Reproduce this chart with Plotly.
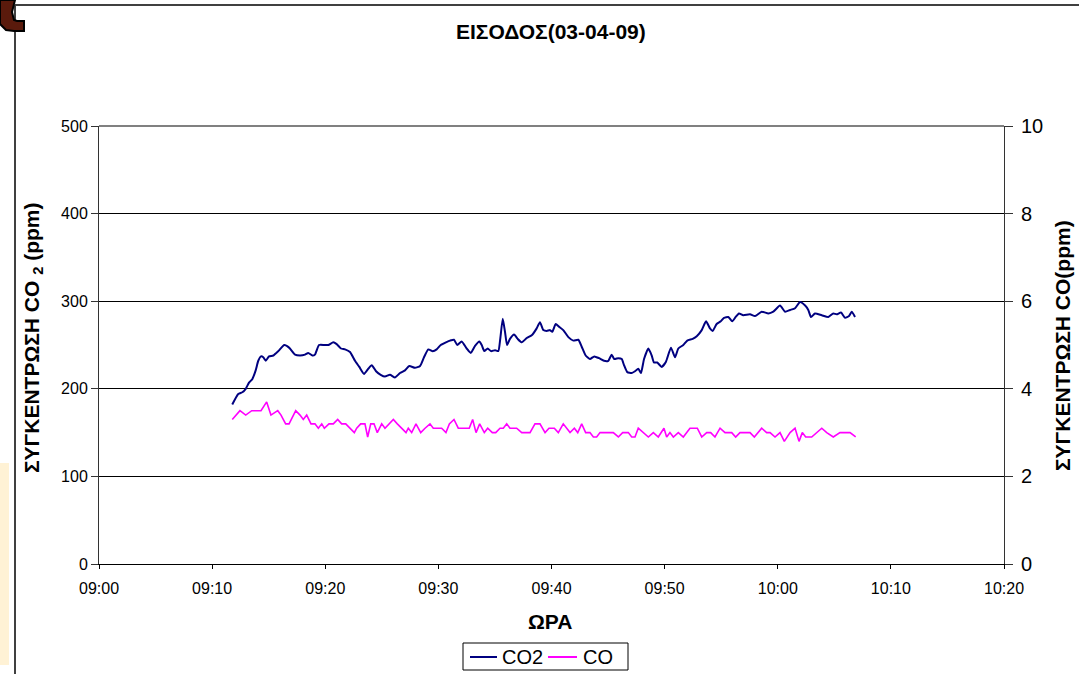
import pandas as pd
import plotly.graph_objects as go

# Sampling times (minutes after 09:00) and readings
co2_minutes = [11.78, 12.31, 12.67, 12.97, 13.26, 13.55, 13.85, 14.08, 14.32, 14.52, 14.74, 15.03,
               15.41, 15.85, 16.38, 16.80, 17.33, 17.77, 18.21, 18.50, 18.86, 19.09, 19.45, 19.92,
               20.27, 20.71, 21.01, 21.39, 21.75, 22.19, 22.63, 23.01, 23.43, 23.81, 24.11, 24.49,
               24.90, 25.28, 25.72, 26.17, 26.61, 27.05, 27.43, 27.93, 28.38, 28.73, 29.11, 29.50,
               29.85, 30.21, 30.67, 31.03, 31.38, 31.67, 32.06, 32.50, 32.86, 33.24, 33.62, 33.83,
               34.06, 34.36, 34.65, 35.01, 35.30, 35.47, 35.69, 35.89, 36.07, 36.33, 36.69, 37.01,
               37.37, 37.81, 38.25, 38.69, 38.98, 39.28, 39.58, 39.87, 40.07, 40.37, 40.66, 41.04,
               41.49, 41.93, 42.37, 42.67, 43.02, 43.40, 43.78, 44.20, 44.64, 45.02, 45.32, 45.55,
               45.91, 46.21, 46.41, 46.70, 47.09, 47.38, 47.67, 47.91, 48.18, 48.56, 48.86, 49.06,
               49.35, 49.74, 50.12, 50.56, 50.92, 51.21, 51.65, 52.00, 52.48, 52.84, 53.28, 53.66,
               54.01, 54.25, 54.60, 54.96, 55.25, 55.63, 55.98, 56.28, 56.57, 56.95, 57.55, 57.99,
               58.58, 59.17, 59.61, 60.20, 60.65, 61.09, 61.53, 61.97, 62.42, 62.70, 62.94, 63.29,
               63.89, 64.47, 64.91, 65.21, 65.59, 65.95, 66.30, 66.54, 66.83]
co2_ppm = [182, 194, 196, 200, 207, 211, 221, 232, 237, 236, 232, 237,
           238, 243, 250, 247, 239, 238, 239, 241, 238, 239, 250, 250,
           250, 253, 251, 246, 245, 242, 232, 225, 217, 223, 227, 220,
           216, 214, 216, 213, 218, 221, 226, 224, 226, 236, 245, 243,
           245, 250, 253, 255, 256, 250, 254, 246, 241, 249, 254, 250,
           243, 246, 243, 244, 243, 257, 280, 265, 250, 257, 262, 257,
           253, 258, 261, 269, 276, 267, 266, 267, 265, 274, 271, 267,
           259, 255, 256, 248, 238, 234, 237, 235, 232, 232, 239, 234,
           235, 234, 227, 219, 218, 220, 223, 218, 234, 246, 238, 230,
           230, 225, 231, 247, 236, 246, 250, 255, 257, 260, 267, 277,
           269, 266, 274, 277, 281, 282, 277, 282, 286, 284, 285, 283,
           288, 286, 288, 295, 288, 290, 292, 299, 295, 290, 282, 286,
           284, 282, 286, 285, 287, 281, 283, 288, 282]

co_minutes = [11.78, 12.46, 12.97, 13.50, 14.32, 14.82, 15.20, 15.80, 16.09, 16.50, 16.80, 17.39,
              17.77, 18.06, 18.36, 18.74, 19.09, 19.39, 19.69, 19.92, 20.33, 20.71, 21.10, 21.45,
              21.81, 22.19, 22.57, 22.78, 23.13, 23.51, 23.75, 24.02, 24.31, 24.60, 24.99, 25.28,
              25.66, 26.02, 26.37, 26.76, 27.14, 27.34, 27.64, 28.02, 28.44, 28.82, 29.26, 29.55,
              29.85, 30.29, 30.67, 30.97, 31.38, 31.76, 32.35, 32.73, 33.03, 33.33, 33.65, 34.06,
              34.36, 34.77, 35.07, 35.45, 35.74, 36.04, 36.33, 36.92, 37.37, 38.10, 38.54, 38.98,
              39.43, 39.78, 40.25, 40.60, 41.04, 41.34, 41.64, 42.02, 42.32, 42.67, 43.02, 43.40,
              43.70, 43.99, 44.29, 45.46, 45.91, 46.29, 46.79, 47.09, 47.38, 47.67, 48.12, 48.56,
              49.00, 49.44, 49.94, 50.18, 50.47, 50.77, 51.21, 51.65, 52.24, 52.89, 53.28, 53.72,
              54.07, 54.45, 54.90, 55.34, 55.93, 56.28, 56.66, 57.55, 57.93, 58.58, 59.02, 59.32,
              59.76, 60.20, 60.58, 61.09, 61.53, 61.88, 62.17, 62.47, 63.00, 63.44, 63.89, 64.33,
              64.91, 65.50, 66.39, 66.89]
co_ppm = [3.3, 3.5, 3.4, 3.5, 3.5, 3.7, 3.4, 3.5, 3.4, 3.2, 3.2, 3.5,
          3.4, 3.3, 3.4, 3.2, 3.2, 3.1, 3.2, 3.1, 3.2, 3.2, 3.3, 3.2,
          3.2, 3.1, 3.0, 3.1, 3.2, 3.2, 2.9, 3.2, 3.2, 3.0, 3.2, 3.1,
          3.2, 3.3, 3.2, 3.1, 3.0, 3.1, 3.0, 3.2, 3.0, 3.1, 3.2, 3.1,
          3.1, 3.1, 3.0, 3.2, 3.3, 3.1, 3.1, 3.1, 3.3, 3.0, 3.2, 3.0,
          3.1, 3.0, 3.0, 3.1, 3.1, 3.2, 3.1, 3.1, 3.0, 3.0, 3.2, 3.2,
          3.0, 3.1, 3.1, 3.0, 3.2, 3.1, 3.0, 3.1, 3.0, 3.2, 3.0, 3.0,
          2.9, 2.9, 3.0, 3.0, 2.9, 3.0, 3.0, 2.9, 2.9, 3.1, 3.0, 2.9,
          3.0, 2.9, 3.1, 2.9, 3.0, 2.9, 3.0, 2.9, 3.1, 3.1, 2.9, 3.0,
          3.0, 2.9, 3.1, 3.0, 3.0, 2.9, 3.0, 3.0, 2.9, 3.1, 3.0, 3.0,
          2.9, 3.0, 2.8, 3.0, 3.1, 2.8, 3.0, 2.9, 2.9, 3.0, 3.1, 3.0,
          2.9, 3.0, 3.0, 2.9]

x_ticks = ["09:00", "09:10", "09:20", "09:30", "09:40", "09:50", "10:00", "10:10", "10:20"]
series_names = ["CO2", "CO"]
series_colors = ["#000080", "#FF00FF"]

day = pd.Timestamp("2009-04-03 09:00:00")
co2_time = day + pd.to_timedelta(co2_minutes, unit="min")
co_time = day + pd.to_timedelta(co_minutes, unit="min")
tick_times = [pd.Timestamp(f"2009-04-03 {t}:00") for t in x_ticks]

FONT = "Liberation Sans, Arial, sans-serif"

# plot-area pixel box inside the 1079x674 canvas
L, R, T, B = 99, 1004, 126, 564
W, H = R - L, B - T


def px(x):
    return (x - L) / W


def py(y):
    return (B - y) / H


def label(text, x, y, size, angle=0, xanchor="center"):
    fig.add_annotation(text=text, xref="paper", yref="paper", x=px(x), y=py(y),
                       xanchor=xanchor, yanchor="middle", textangle=angle,
                       showarrow=False, font=dict(size=size))


fig = go.Figure()
fig.add_trace(go.Scatter(x=co2_time, y=co2_ppm, name=series_names[0], mode="lines",
                         line=dict(color=series_colors[0], width=2, shape="spline", smoothing=0.5)))
fig.add_trace(go.Scatter(x=co_time, y=co_ppm, name=series_names[1], mode="lines", yaxis="y2",
                         line=dict(color=series_colors[1], width=1.6)))

fig.update_layout(
    width=1079, height=674,
    margin=dict(l=L, r=1079 - R, t=T, b=674 - B, autoexpand=False),
    paper_bgcolor="white", plot_bgcolor="white",
    font=dict(family=FONT, size=16, color="black"),
    showlegend=False,
    xaxis=dict(type="date", range=[tick_times[0], tick_times[-1]],
               tickvals=tick_times, ticktext=x_ticks,
               showgrid=False, showline=True, linecolor="black", linewidth=1,
               ticks="outside", ticklen=4, tickcolor="black", zeroline=False,
               ticklabelstandoff=6, tickfont=dict(size=16)),
    yaxis=dict(range=[0, 500], dtick=100, showgrid=True, gridcolor="black", gridwidth=1,
               showline=True, linecolor="#333333", linewidth=1, ticks="outside",
               ticklen=7, tickcolor="#333333", zeroline=False, tickfont=dict(size=16)),
    yaxis2=dict(range=[0, 10], dtick=2, overlaying="y", side="right", showgrid=False,
                showline=True, linecolor="#333333", linewidth=1, ticks="outside",
                ticklen=8, tickcolor="#333333", zeroline=False, ticklabelstandoff=4,
                tickfont=dict(size=20)),
)

# Titles
label("<b>ΕΙΣΟΔΟΣ(03-04-09)</b>", 551, 32, 21)
label("<b>ΩΡΑ</b>", 550, 621, 21)
label("<b>ΣΥΓΚΕΝΤΡΩΣΗ CO <sub>2</sub> (ppm)</b>", 33, 338, 21, angle=-90)
label("<b>ΣΥΓΚΕΝΤΡΩΣΗ CO(ppm)</b>", 1062, 346, 21, angle=-90)

# Legend box with line samples
fig.add_shape(type="rect", xref="paper", yref="paper", x0=px(463), x1=px(628),
              y0=py(643), y1=py(670), line=dict(color="black", width=1), fillcolor="white")
legend_items = [(470, 497, 500), (548, 577, 581)]
for (lx0, lx1, tx), name, color in zip(legend_items, series_names, series_colors):
    fig.add_shape(type="line", xref="paper", yref="paper", x0=px(lx0), x1=px(lx1),
                  y0=py(657), y1=py(657), line=dict(color=color, width=2))
    label(name, tx, 657, 20, xanchor="left")

# Plot-area top edge and outer chart frame
fig.add_shape(type="line", xref="paper", yref="paper", x0=0, x1=1, y0=1, y1=1,
              line=dict(color="#808080", width=2))
fig.add_shape(type="line", xref="paper", yref="paper",
              x0=px(15), x1=px(15), y0=py(5), y1=py(690),
              line=dict(color="#404040", width=2))
fig.add_shape(type="line", xref="paper", yref="paper",
              x0=px(15), x1=px(1090), y0=py(5), y1=py(5),
              line=dict(color="#404040", width=2))
fig.add_shape(type="rect", xref="paper", yref="paper",
              x0=px(0), x1=px(9), y0=py(463), y1=py(665),
              fillcolor="#FFF2D5", line=dict(width=0), layer="below")

# Corner ornament at the top left of the page
corner = [(0, 0), (15, 0), (12, 12), (14, 20), (17, 21), (24, 21), (24, 31),
          (14, 31), (6, 30), (0, 24)]
corner_path = "M " + " L ".join(f"{px(x):.5f},{py(y):.5f}" for x, y in corner) + " Z"
fig.add_shape(type="path", xref="paper", yref="paper", path=corner_path,
              fillcolor="#5A1A0C", line=dict(color="black", width=2))

fig.write_html("out.html")
